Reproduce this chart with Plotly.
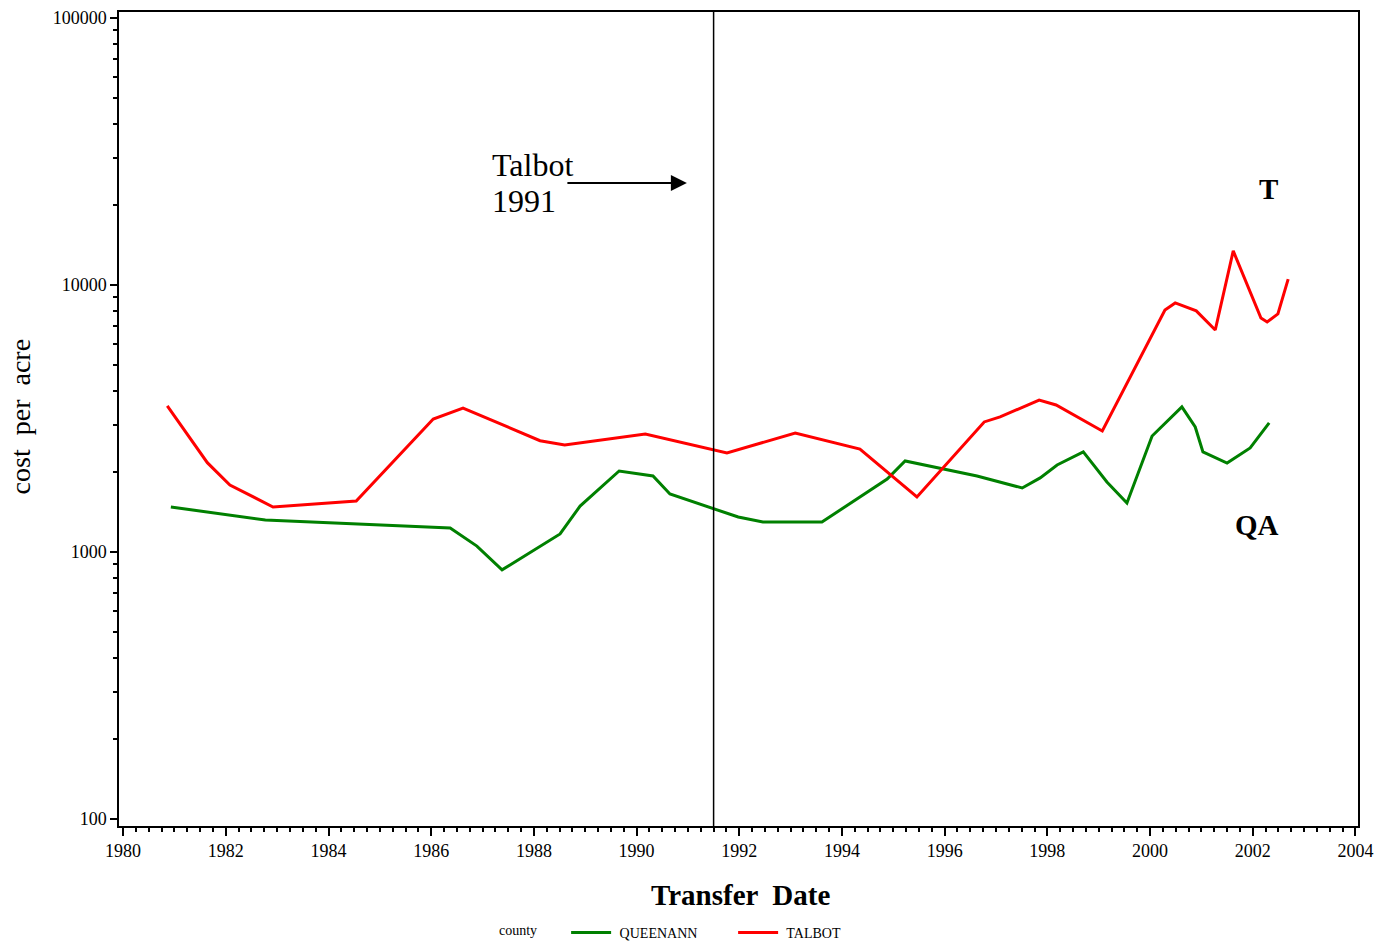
import plotly.graph_objects as go

# Land transfer cost per acre by county (log scale)
talbot_year = [1980.86, 1981.64, 1982.08, 1982.92, 1984.54, 1986.04, 1986.62, 1988.12,
               1988.60, 1990.17, 1991.76, 1993.09, 1994.35, 1995.46, 1996.77, 1997.08,
               1997.84, 1998.17, 1999.07, 2000.29, 2000.49, 2000.90, 2001.27, 2001.62,
               2002.16, 2002.28, 2002.49, 2002.69]
talbot_cost = [3523, 2160, 1782, 1474, 1552, 3148, 3461, 2610,
               2517, 2767, 2348, 2791, 2430, 1607, 3069, 3204,
               3708, 3553, 2838, 8054, 8565, 7998, 6782, 13406,
               7520, 7270, 7787, 10520]

queenann_year = [1980.93, 1982.77, 1986.37, 1986.89, 1987.38, 1988.51, 1988.90, 1989.66,
                 1990.32, 1990.65, 1991.98, 1992.46, 1993.61, 1994.88, 1995.23, 1995.91,
                 1996.63, 1997.51, 1997.86, 1998.19, 1998.70, 1999.16, 1999.55, 2000.04,
                 2000.62, 2000.88, 2001.03, 2001.50, 2001.95, 2002.32]
queenann_cost = [1474, 1318, 1230, 1052, 857, 1168, 1486, 2011,
                 1926, 1649, 1352, 1295, 1295, 1876, 2192, 2063,
                 1926, 1737, 1894, 2117, 2370, 1829, 1526, 2718,
                 3493, 2939, 2370, 2154, 2453, 3042]

year_ticks = list(range(1980, 2005, 2))
cost_ticks = [100, 1000, 10000, 100000]
cost_minor = [m * d for d in (100, 1000, 10000) for m in range(2, 10)]
policy_year = 1991.5

SERIF = "Liberation Serif, Times New Roman, serif"

fig = go.Figure()
fig.add_trace(go.Scatter(x=queenann_year, y=queenann_cost, mode="lines", name=" QUEENANN",
                         line=dict(color="#008000", width=3)))
fig.add_trace(go.Scatter(x=talbot_year, y=talbot_cost, mode="lines", name=" TALBOT",
                         line=dict(color="#ff0000", width=3)))

fig.add_shape(type="line", xref="x", yref="paper", x0=policy_year, x1=policy_year,
              y0=0, y1=1, line=dict(color="black", width=1.5))

# policy annotation with arrow
fig.add_annotation(x=1990.98, y=4.382, xref="x", yref="y", ax=-121, ay=0,
                   text="", showarrow=True, arrowhead=2, arrowsize=1.6,
                   arrowwidth=2, arrowcolor="black")
fig.add_annotation(x=1987.15, y=4.449, xref="x", yref="y", text="Talbot",
                   showarrow=False, xanchor="left", yanchor="middle", align="left",
                   font=dict(family=SERIF, size=32, color="black"))
fig.add_annotation(x=1987.15, y=4.315, xref="x", yref="y", text="1991",
                   showarrow=False, xanchor="left", yanchor="middle", align="left",
                   font=dict(family=SERIF, size=32, color="black"))
fig.add_annotation(x=2002.30, y=4.360, xref="x", yref="y", text="<b>T</b>",
                   showarrow=False, font=dict(family=SERIF, size=29, color="black"))
fig.add_annotation(x=2002.08, y=3.101, xref="x", yref="y", text="<b>QA</b>",
                   showarrow=False, font=dict(family=SERIF, size=29, color="black"))

# axis titles
fig.add_annotation(x=-0.0799, y=0.502, xref="paper", yref="paper", text="cost  per  acre",
                   textangle=-90, showarrow=False, xanchor="center", yanchor="middle",
                   font=dict(family=SERIF, size=28, color="black"))
fig.add_annotation(x=0.5015, y=-0.0848, xref="paper", yref="paper", text="<b>Transfer  Date</b>",
                   showarrow=False, xanchor="center", yanchor="middle",
                   font=dict(family=SERIF, size=29, color="black"))

fig.update_layout(
    width=1387, height=943,
    margin=dict(l=119, r=29, t=12, b=117, autoexpand=False),
    paper_bgcolor="white", plot_bgcolor="white",
    font=dict(family=SERIF, color="black"),
    showlegend=True,
    legend=dict(orientation="h", x=497 / 1387, y=1 - 933 / 943, xref="container",
                yref="container", xanchor="left", yanchor="middle",
                title=dict(text="county      ", font=dict(family=SERIF, size=14), side="left"),
                font=dict(family=SERIF, size=14), itemwidth=40,
                entrywidth=112, entrywidthmode="pixels",
                bgcolor="rgba(0,0,0,0)"),
    xaxis=dict(range=[1979.92, 2004.05], tickmode="array", tickvals=year_ticks,
               ticktext=[str(y) for y in year_ticks], ticks="outside", ticklen=8,
               tickwidth=1.5, tickcolor="black", showline=True, linecolor="black",
               linewidth=1.5, mirror=True, showgrid=False, zeroline=False,
               automargin=False,
               tickfont=dict(family=SERIF, size=18, color="black"),
               minor=dict(dtick=0.25, tick0=1980, ticks="outside", ticklen=4,
                          tickwidth=1.5, tickcolor="black", showgrid=False)),
    yaxis=dict(type="log", range=[1.974, 5.022], tickmode="array", tickvals=cost_ticks,
               ticktext=[str(v) for v in cost_ticks], ticks="outside", ticklen=7,
               tickwidth=1.5, tickcolor="black", showline=True, linecolor="black",
               linewidth=1.5, mirror=True, showgrid=False, zeroline=False,
               automargin=False,
               tickfont=dict(family=SERIF, size=18, color="black"),
               minor=dict(tickmode="array", tickvals=cost_minor, ticks="outside",
                          ticklen=4, tickwidth=1.5, tickcolor="black", showgrid=False)),
)

fig.write_html("out.html")
